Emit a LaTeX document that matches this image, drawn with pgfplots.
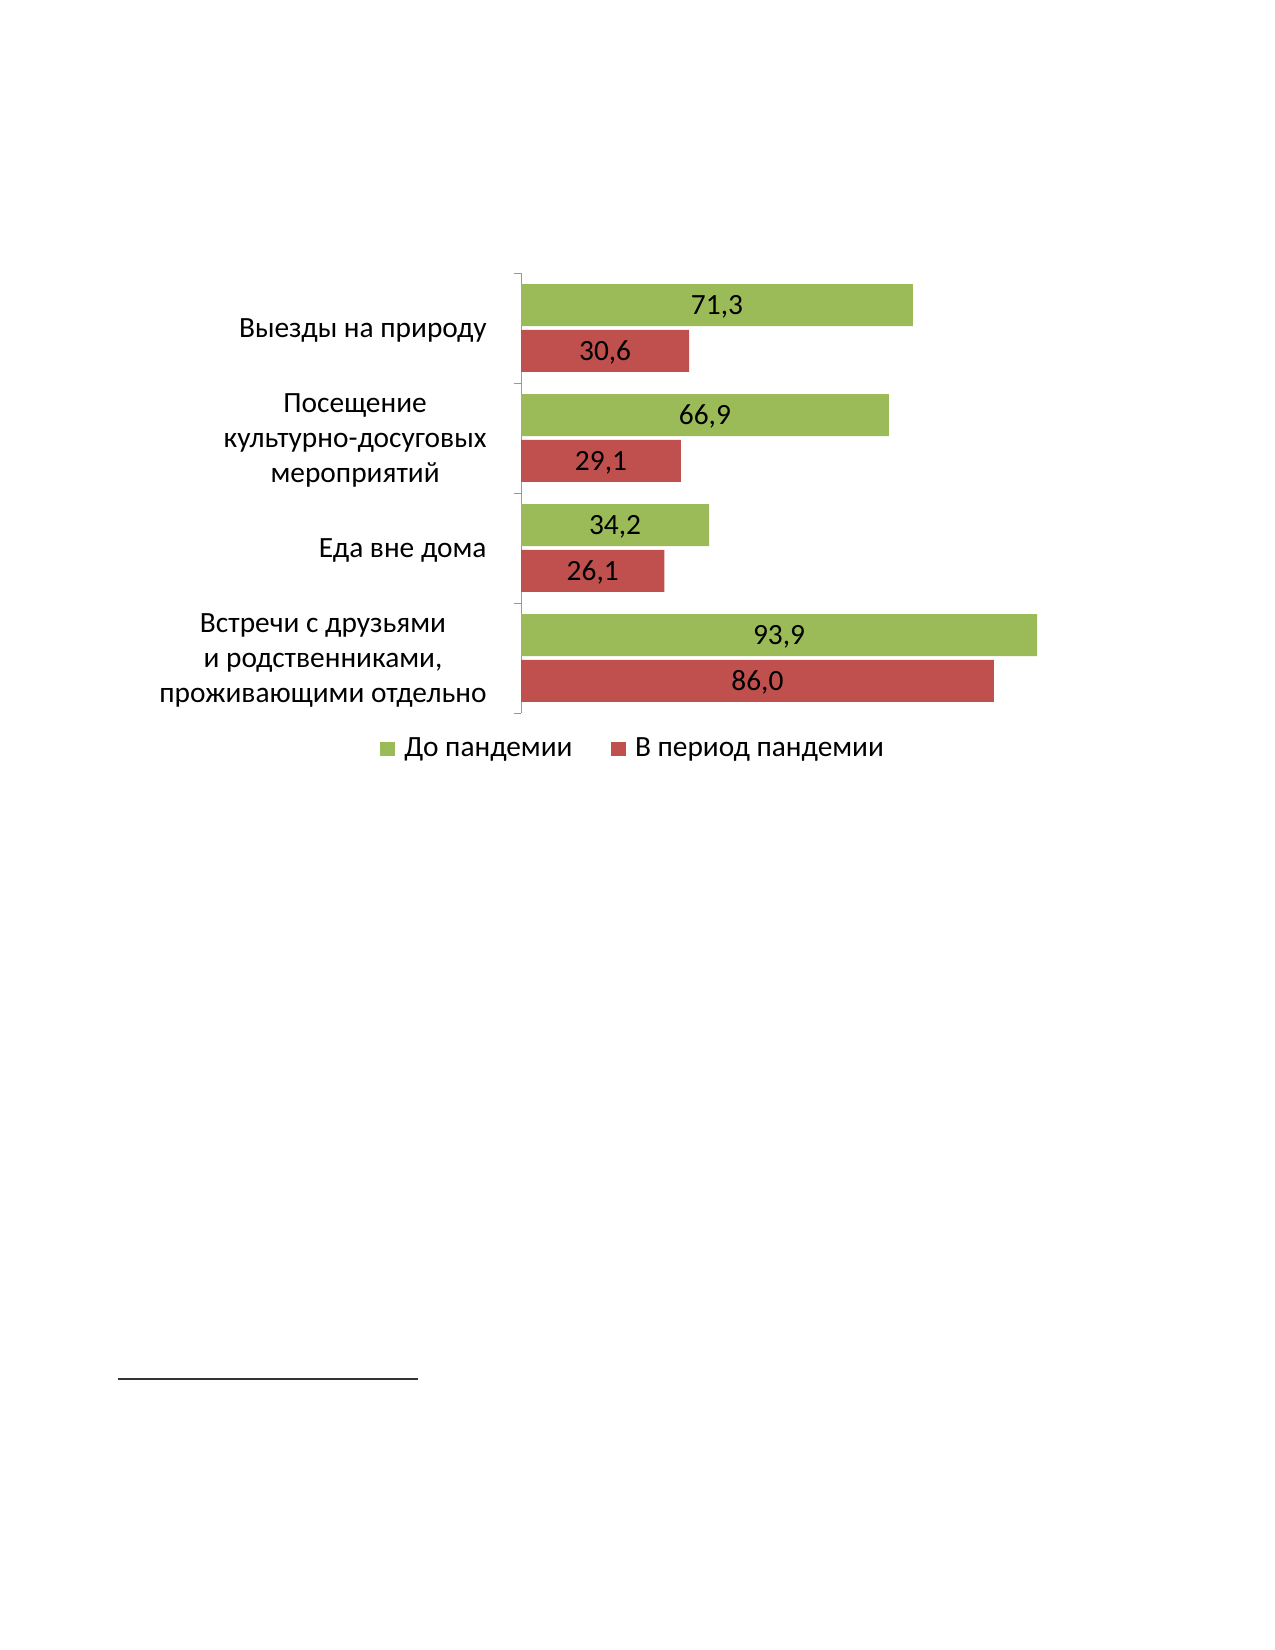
\documentclass[border=0pt]{standalone}
\usepackage{fontspec}
\setmainfont{Carlito}
\usepackage{pgfplots}
\pgfplotsset{compat=1.18}
\definecolor{cgreen}{HTML}{9BBB59}
\definecolor{cred}{HTML}{C0504D}
\begin{document}
\begin{tikzpicture}
\path[use as bounding box, fill=white] (0,0) rectangle (612pt,-792pt);
\begin{axis}[
  at={(250.08pt,-342.24pt)}, anchor=south west,
  scale only axis, width=263.86pt, height=211.2pt,
  xmin=0, xmax=100, ymin=-0.5, ymax=3.5,
  xbar, bar width=20.2pt,
  axis x line=none, axis y line=left,
  y axis line style={-, draw=gray!80},
  ytick={0,1,2,3},
  yticklabels={{Встречи с друзьями\\и родственниками,\\проживающими отдельно}, {Еда вне дома}, {Посещение\\культурно-досуговых\\мероприятий}, {Выезды на природу}},
  major tick length=0pt,
  extra y ticks={-0.5,0.5,1.5,2.5,3.5},
  extra y tick labels={},
  extra y tick style={major tick length=3.4pt, tick align=outside, tick style={draw=gray!80}},
  yticklabel style={align=center, font=\fontsize{14.1}{17}\selectfont, xshift=-13pt, yshift=-1.2pt},
  nodes near coords={\pgfmathprintnumber[fixed,fixed zerofill,precision=1,use comma,assume math mode=true]{\pgfplotspointmeta}},
  point meta=x,
  visualization depends on={x \as \rawx},
  nodes near coords style={font=\fontsize{14.1}{17}\selectfont, anchor=center, yshift=-0.8pt, shift={(axis direction cs:-\rawx/2,0)}},
  legend columns=2,
  legend style={at={(0.206,-0.082)}, anchor=center, draw=none, font=\fontsize{14.1}{17}\selectfont,
    /tikz/every even column/.append style={column sep=16.5pt}},
]
\addplot[fill=cgreen, draw=none, bar shift=11pt,
  legend image code/.code={\fill[cgreen] (0pt,-3.5pt) rectangle (7pt,3.5pt); \path (9.5pt,0pt);}]
  coordinates {(93.9,0) (34.2,1) (66.9,2) (71.3,3)};
\addplot[fill=cred, draw=none, bar shift=-11pt,
  legend image code/.code={\fill[cred] (0pt,-3.5pt) rectangle (7pt,3.5pt); \path (9.5pt,0pt);}]
  coordinates {(86.0,0) (26.1,1) (29.1,2) (30.6,3)};
\legend{До пандемии, В период пандемии}
\end{axis}
\draw[line width=1.2pt, color=black!80] (56.64pt,-661.92pt) -- (200.64pt,-661.92pt);
\end{tikzpicture}
\end{document}
